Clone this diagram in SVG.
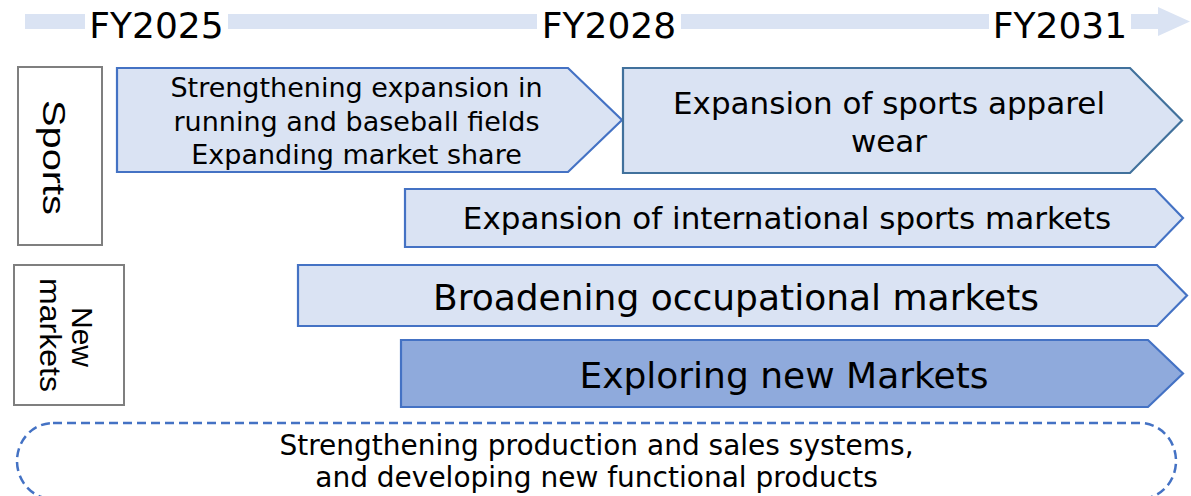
<svg xmlns="http://www.w3.org/2000/svg" width="1191" height="496" viewBox="0 0 1191 496">
  <style>
    .t { font-family: "DejaVu Sans", Verdana, sans-serif; fill: #000; text-anchor: middle; }
    .lbl { font-family: "Liberation Sans", Arial, sans-serif; fill: #000; text-anchor: middle; }
    .cat { fill: #fff; stroke: #7f7f7f; stroke-width: 2; }
    .chev { fill: #dae3f3; stroke: #4472c4; stroke-width: 2.2; }
    .chev-dark { fill: #dae3f3; stroke: #41719c; stroke-width: 2.2; }
    .chev-strong { fill: #8faadc; stroke: #4472c4; stroke-width: 2.2; }
    .halo { fill: #fff; }
  </style>

  <!-- timeline arrow -->
  <g id="timeline">
    <polygon points="25,14 1158,14 1158,7 1190,21.5 1158,36 1158,29 25,29" fill="#dae3f3"/>
    <rect class="halo" x="85" y="4" width="143" height="42"/>
    <rect class="halo" x="537" y="4" width="144" height="42"/>
    <rect class="halo" x="989" y="4" width="142" height="42"/>
    <text class="t" x="156.5" y="38" font-size="36">FY2025</text>
    <text class="t" x="609" y="38" font-size="36">FY2028</text>
    <text class="t" x="1060" y="38" font-size="36">FY2031</text>
  </g>

  <!-- category labels -->
  <g id="cat-sports">
    <rect class="cat" x="18" y="67" width="84" height="178"/>
    <text class="lbl" font-size="31" textLength="115" lengthAdjust="spacingAndGlyphs" transform="translate(43,157.5) rotate(90)">Sports</text>
  </g>
  <g id="cat-new-markets">
    <rect class="cat" x="14" y="265" width="110" height="140"/>
    <text class="lbl" font-size="30" transform="translate(72,337) rotate(90)">New</text>
    <text class="lbl" font-size="30" textLength="114" lengthAdjust="spacingAndGlyphs" transform="translate(40,335) rotate(90)">markets</text>
  </g>

  <!-- sports chevrons -->
  <g id="running-baseball">
    <polygon class="chev" points="117,68 568,68 622,120 568,172 117,172"/>
    <text class="t" x="356.5" y="97" font-size="27">Strengthening expansion in</text>
    <text class="t" x="356.5" y="131" font-size="27">running and baseball fields</text>
    <text class="t" x="356.5" y="164" font-size="27">Expanding market share</text>
  </g>
  <g id="apparel">
    <polygon class="chev-dark" points="623,68 1130,68 1182,120.5 1130,173 623,173"/>
    <text class="t" x="889" y="114" font-size="31">Expansion of sports apparel</text>
    <text class="t" x="889" y="152" font-size="31">wear</text>
  </g>
  <g id="international">
    <polygon class="chev" points="405,189 1155,189 1183,218 1155,247 405,247"/>
    <text class="t" x="787" y="229" font-size="31">Expansion of international sports markets</text>
  </g>

  <!-- new-market chevrons -->
  <g id="occupational">
    <polygon class="chev" points="298,265 1157,265 1187,295.5 1157,326 298,326"/>
    <text class="t" x="736" y="310" font-size="36">Broadening occupational markets</text>
  </g>
  <g id="exploring">
    <polygon class="chev-strong" points="401,340 1148,340 1183,373.5 1148,407 401,407"/>
    <text class="t" x="784" y="388" font-size="36">Exploring new Markets</text>
  </g>

  <!-- foundation band (bottom edge runs just past the canvas) -->
  <g id="foundation">
    <rect x="17" y="423" width="1159" height="76" rx="36" ry="38" fill="none" stroke="#4472c4" stroke-width="2.5" stroke-dasharray="9 5"/>
    <text class="t" x="596.5" y="455" font-size="28">Strengthening production and sales systems,</text>
    <text class="t" x="596.5" y="487" font-size="28">and developing new functional products</text>
  </g>

  <g id="connectors"/>
</svg>
